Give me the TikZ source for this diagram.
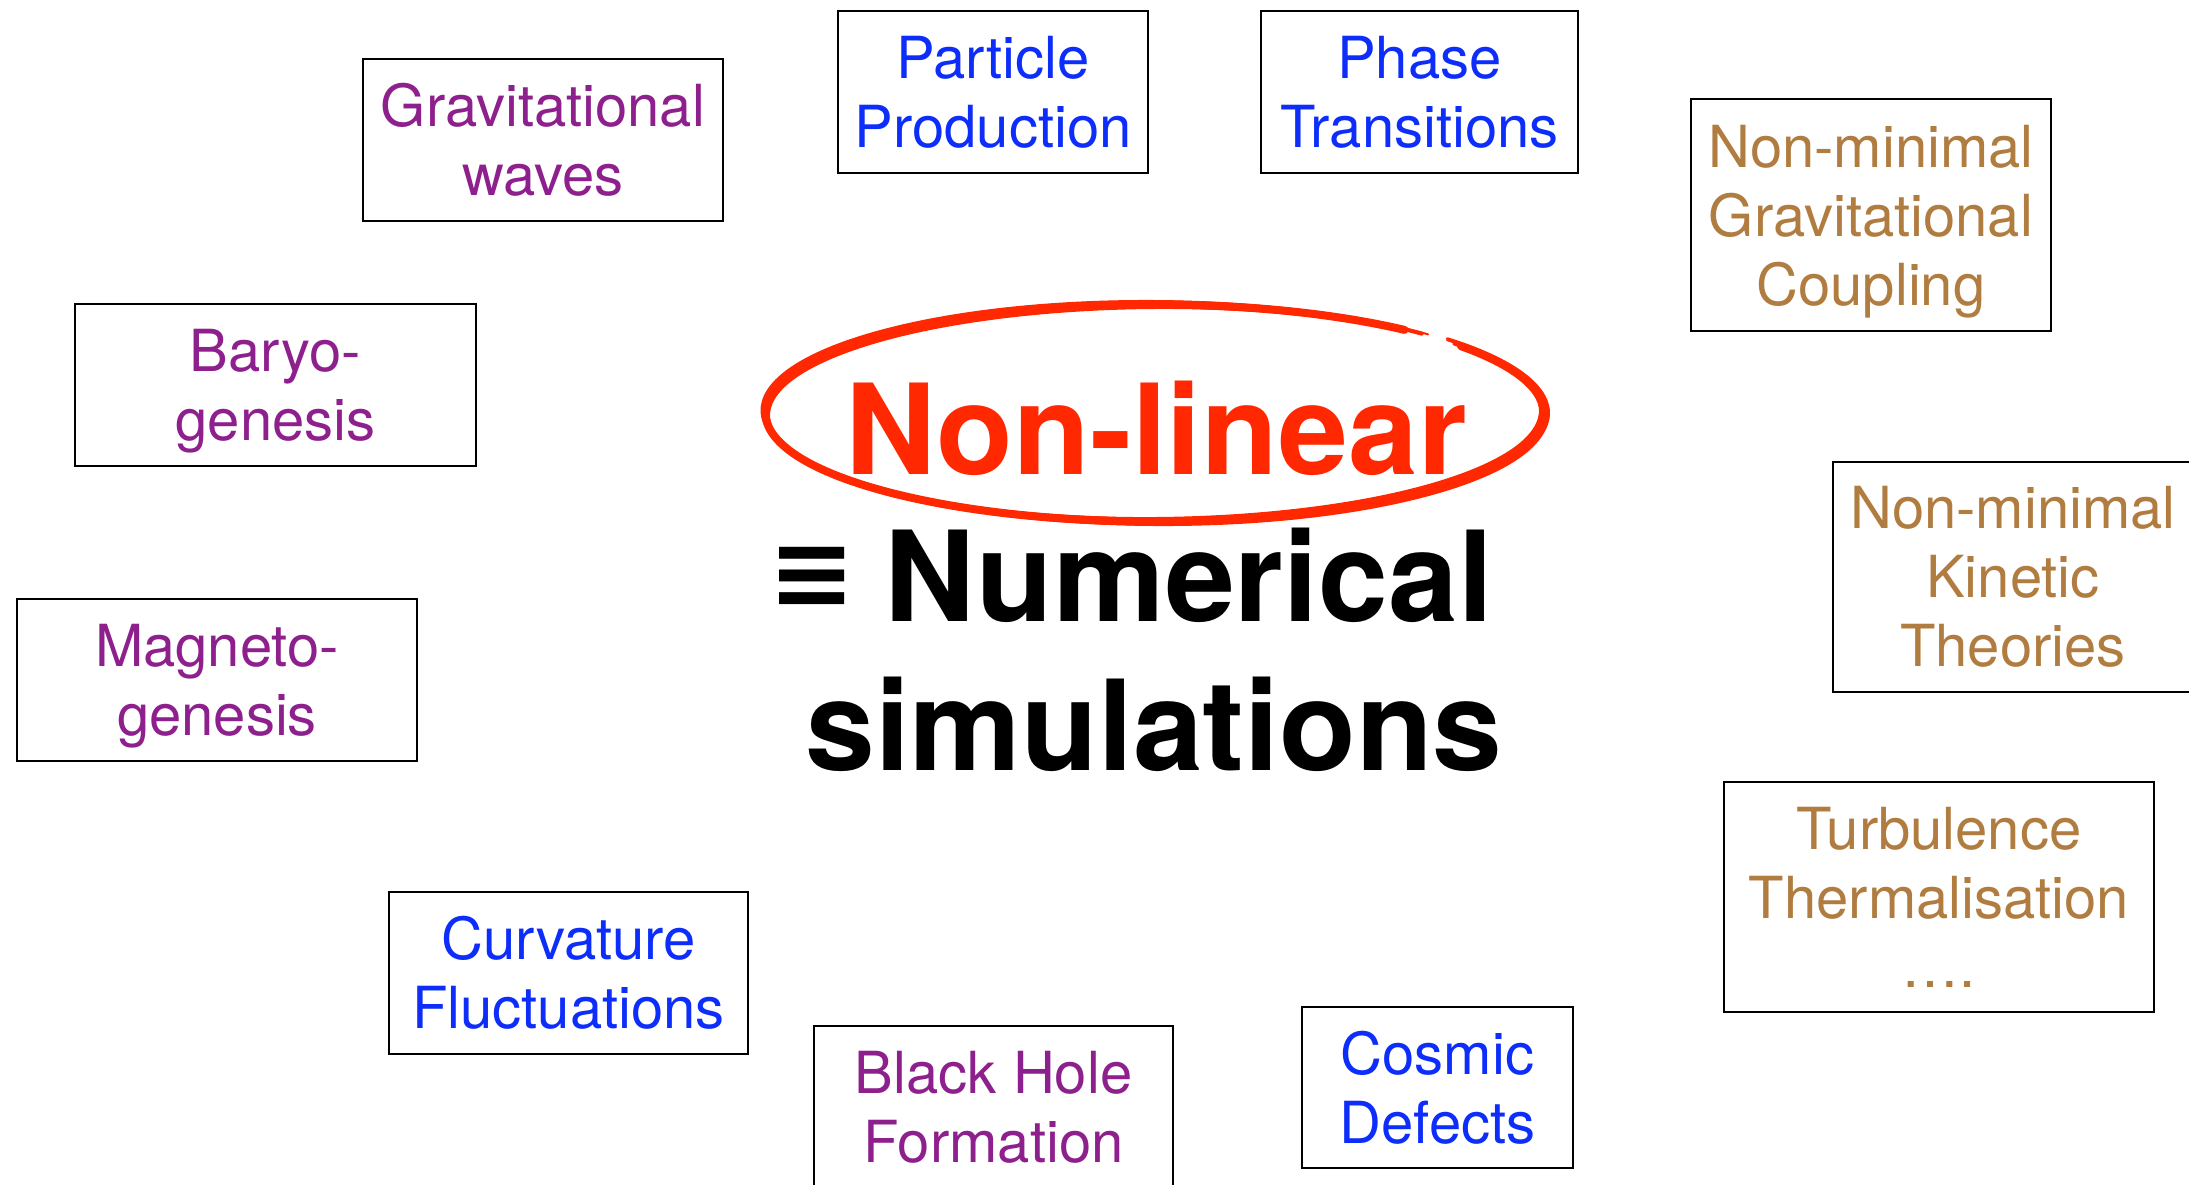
\documentclass[tikz,border=0pt]{standalone}
\usepackage{fontspec}
\setmainfont{TeX Gyre Heros}
\newfontfamily\symfont{DejaVu Sans}
\definecolor{cpurple}{RGB}{142,32,142}
\definecolor{cblue}{RGB}{12,45,250}
\definecolor{cbrown}{RGB}{176,124,64}
\definecolor{cred}{RGB}{255,40,0}
\tikzset{
  box/.style={draw=black, line width=2.5pt, inner sep=0pt, align=center,
    font=\fontsize{58}{69}\selectfont},
  big/.style={anchor=base, inner sep=0pt, font=\bfseries\fontsize{125.5}{125.5}\selectfont},
  brush/.style={draw=cred, line cap=round}
}
\begin{document}
\begin{tikzpicture}[x=1pt,y=-1pt]
\clip (0,0) rectangle (2189,1184);
\fill[white] (0,0) rectangle (2189,1184);
% boxes
\node[box, text=cpurple, minimum width=360pt, minimum height=162pt] (gw) at (543,140) {Gravitational\\waves};
\node[box, text=cblue, minimum width=310pt, minimum height=162pt] (pp) at (993,92) {Particle\\Production};
\node[box, text=cblue, minimum width=317pt, minimum height=162pt] (pt) at (1419.5,92) {Phase\\Transitions};
\node[box, text=cbrown, minimum width=360pt, minimum height=232pt] (nmg) at (1871,215) {Non-minimal\\Gravitational\\\smash{Coupling}};
\node[box, text=cpurple, minimum width=401pt, minimum height=162pt] (bg) at (275.5,385) {Baryo-\\\smash{genesis}};
\node[box, text=cbrown, minimum width=360pt, minimum height=230pt] (nmk) at (2013,577) {Non-minimal\\Kinetic\\Theories};
\node[box, text=cpurple, minimum width=400pt, minimum height=162pt] (mg) at (217,680) {Magneto-\\\smash{genesis}};
\node[box, text=cblue, minimum width=359pt, minimum height=162pt] (cf) at (568.5,973) {Curvature\\Fluctuations};
\node[box, text=cbrown, minimum width=430pt, minimum height=230pt] (tt) at (1939,897) {Turbulence\\Thermalisation\\….};
\node[box, text=cpurple, minimum width=359pt, minimum height=162pt] (bh) at (993.5,1107) {Black Hole\\Formation};
\node[box, text=cblue, minimum width=271pt, minimum height=161pt] (cd) at (1437.5,1087.5) {Cosmic\\Defects};
% hand-drawn ellipse (angles in canvas orientation: positive = upwards)
\coordinate (c) at (1154.5,413);
\begin{scope}[shift={(c)}]
  \foreach \rx/\ry/\rot/\lw/\sa/\ea in {
      389/108.5/0/8/50/398,
      391/110.5/-0.3/4/47/400,
      387/106.5/0.3/4/52/396,
      393/112/-0.4/2/46/402,
      385.5/105/0.4/2/55/395,
      394/111/0/3/-30/42}{
    \draw[brush, line width=\lw pt, rotate=\rot] (\sa:\rx pt and \ry pt) arc[start angle=\sa, end angle=\ea, x radius=\rx pt, y radius=\ry pt];
  }
\end{scope}
% central text
\node[big, text=cred] (nl) at (1156,474) {Non-linear};
\node[big, text=black] (num) at (1189,621) {Numerical};
\node[big, text=black] (sim) at (1154,770) {simulations};
\node[anchor=base, inner sep=0pt, font=\symfont\bfseries\fontsize{104}{104}\selectfont] (eq) at (812,608) {≡};
\end{tikzpicture}
\end{document}
